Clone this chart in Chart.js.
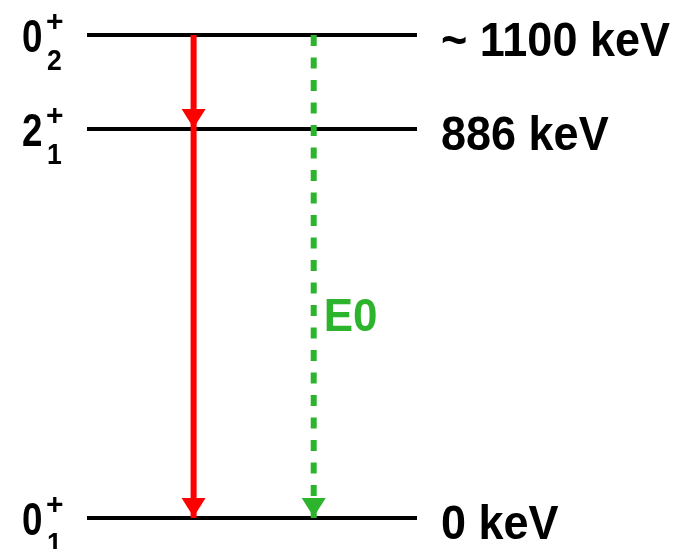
<!DOCTYPE html>
<html>
<head>
<meta charset="utf-8">
<script src="https://cdn.jsdelivr.net/npm/chart.js@4/dist/chart.umd.min.js"></script>
<style>
html,body{margin:0;padding:0;background:#fff;}
canvas{display:block;}
</style>
</head>
<body>
<canvas id="c" width="691" height="549"></canvas>
<script>
// ---- data ----
const levelEnergies = [1100, 886, 0];            // keV
const levelLabels   = ['~ 1100 keV', '886 keV', '0 keV'];
const spinValues    = ['0', '2', '0'];
const spinIndices   = ['2', '1', '1'];
const spinParities  = ['+', '+', '+'];
const gammaCascade  = [1100, 886, 0];            // red transitions 0+2 -> 2+1 -> 0+1
const e0Transition  = [1100, 0];                 // green E0 transition 0+2 -> 0+1
const e0Label       = 'E0';

// ---- layout constants (not data) ----
const X_GAMMA = 0.323, X_E0 = 0.687;
const E0_LABEL_BASELINE_ENERGY = 427;
const FONT = '"Liberation Sans", Arial, sans-serif';
const RED = '#ff0000', GREEN = '#2cb52c';

function drawText(ctx, txt, x, y, size, color, sx, sy) {
  ctx.save();
  ctx.translate(x, y);
  ctx.scale(sx, sy);
  ctx.font = 'bold ' + size + 'px ' + FONT;
  ctx.fillStyle = color;
  ctx.textAlign = 'left';
  ctx.textBaseline = 'alphabetic';
  ctx.fillText(txt, 0, 0);
  ctx.restore();
}

const arrowPlugin = {
  id: 'arrows',
  afterDatasetsDraw(chart) {
    const ctx = chart.ctx;
    chart.data.datasets.forEach((ds, i) => {
      if (!ds.arrowHeads) return;
      const meta = chart.getDatasetMeta(i);
      meta.data.forEach((pt, j) => {
        if (j === 0) return;
        const w = 12, h = 19, tip = pt.y - 1;
        ctx.save();
        ctx.fillStyle = ds.borderColor;
        ctx.beginPath();
        ctx.moveTo(pt.x, tip);
        ctx.lineTo(pt.x - w, tip - h);
        ctx.lineTo(pt.x + w, tip - h);
        ctx.closePath();
        ctx.fill();
        ctx.restore();
      });
    });
  }
};

const labelPlugin = {
  id: 'levelLabels',
  afterDraw(chart) {
    const ctx = chart.ctx;
    const ys = chart.scales.y, xs = chart.scales.x;
    const area = chart.chartArea;
    levelEnergies.forEach((e, i) => {
      const y = ys.getPixelForValue(e);
      // energy label on the right
      drawText(ctx, levelLabels[i], area.right + 24, y + 21, 45, '#000', 1, 1.08);
      // spin-parity label on the left
      drawText(ctx, spinValues[i], 22, y + 17, 46, '#000', 0.8, 1.0);
      drawText(ctx, spinParities[i], 46, y - 4, 30, '#000', 1, 1.0);
      drawText(ctx, spinIndices[i], 47, y + 35, 28, '#000', 0.95, 1.05);
    });
    // E0 label
    const xp = xs.getPixelForValue(X_E0);
    drawText(ctx, e0Label, xp + 10, ys.getPixelForValue(E0_LABEL_BASELINE_ENERGY), 44, GREEN, 1, 1.04);
  }
};

const datasets = [];
datasets.push({
  label: 'gamma',
  data: gammaCascade.map(e => ({x: X_GAMMA, y: e})),
  borderColor: RED, borderWidth: 6, borderCapStyle: 'butt',
  pointRadius: 0, showLine: true, clip: false, arrowHeads: true
});
datasets.push({
  label: 'E0',
  data: e0Transition.map(e => ({x: X_E0, y: e})),
  borderColor: GREEN, borderWidth: 6, borderDash: [11, 11.5], borderCapStyle: 'butt',
  pointRadius: 0, showLine: true, clip: false, arrowHeads: true
});
levelEnergies.forEach((e, i) => {
  datasets.push({
    label: 'level ' + i,
    data: [{x: 0, y: e}, {x: 1, y: e}],
    borderColor: '#000', borderWidth: 4, borderCapStyle: 'butt',
    pointRadius: 0, showLine: true, clip: false
  });
});

new Chart(document.getElementById('c'), {
  type: 'scatter',
  data: { datasets },
  options: {
    responsive: false,
    devicePixelRatio: 1,
    animation: false,
    layout: { padding: { left: 87, right: 274, top: 35, bottom: 31 } },
    scales: {
      x: { type: 'linear', min: 0, max: 1, display: false },
      y: { type: 'linear', min: 0, max: 1100, display: false }
    },
    plugins: { legend: { display: false }, tooltip: { enabled: false } }
  },
  plugins: [arrowPlugin, labelPlugin]
});
</script>
</body>
</html>
